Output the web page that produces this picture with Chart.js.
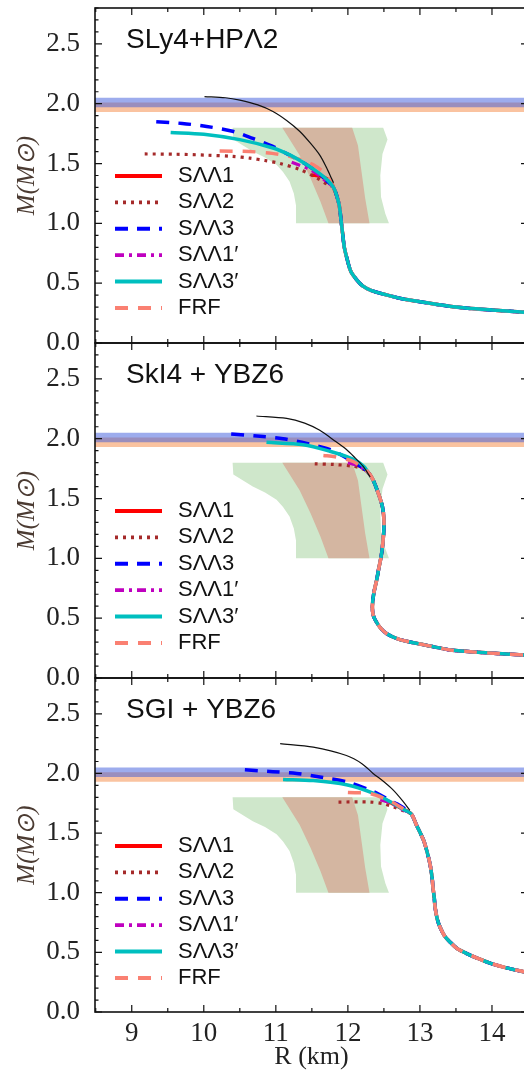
<!DOCTYPE html>
<html>
<head>
<meta charset="utf-8">
<script src="https://cdn.jsdelivr.net/npm/chart.js@4.4.1/dist/chart.umd.min.js"></script>
<style>
  html, body { margin: 0; padding: 0; background: #fff; overflow: hidden; width: 524px; height: 1073px; }
  canvas { position: absolute; left: 0; }
</style>
</head>
<body>
<canvas id="c1" width="529" height="360" style="top:0"></canvas>
<canvas id="c2" width="529" height="360" style="top:335px"></canvas>
<canvas id="c3" width="529" height="403" style="top:670px"></canvas>
<script>
// axis ranges and tick labels
const xRange = [8.49, 14.5];
const yRange = [0, 2.8];
const xTicks = [9, 10, 11, 12, 13, 14];
const yTicks = [0, 0.5, 1.0, 1.5, 2.0, 2.5];

const panelNames = ['SLy4+HPΛ2', 'SkI4 + YBZ6', 'SGI + YBZ6'];
const seriesNames = ['SΛΛ1', 'SΛΛ2', 'SΛΛ3', 'SΛΛ1′', 'SΛΛ3′', 'FRF'];

// mass bands (Msun)
const blueBand = [1.97, 2.05];
const orangeBand = [1.93, 2.01];

// radius constraint regions, [R, M]
const greenRegion = [[10.40,1.80],[12.49,1.80],[12.55,1.70],[12.48,1.58],[12.45,1.40],[12.46,1.22],[12.52,1.08],[12.57,1.00],
  [11.28,1.00],[11.28,1.15],[11.25,1.25],[11.19,1.35],[11.10,1.43],[11.01,1.49],[10.85,1.55],[10.68,1.60],[10.41,1.70]];
const brownRegion = [[11.09,1.80],[12.06,1.80],[12.14,1.65],[12.19,1.43],[12.24,1.21],[12.30,1.00],
  [11.73,1.00],[11.62,1.18],[11.48,1.38],[11.33,1.57]];

// panel 1: SLy4+HPΛ2
const p1Black = [[10.01,2.06],[10.3,2.05],[10.5,2.03],[10.75,1.99],[10.96,1.935],[11.15,1.86],[11.33,1.77],[11.48,1.67],[11.61,1.57],[11.70,1.47],[11.77,1.38],[11.80,1.34]];
const p1Main = [[11.80,1.30],[11.84,1.24],[11.88,1.15],[11.91,1.00],[11.93,0.90],[11.95,0.80],[11.99,0.70],[12.04,0.60],[12.12,0.53],[12.20,0.48],[12.32,0.44],[12.55,0.40],[12.75,0.37],[13.0,0.345],[13.5,0.30],[14.0,0.275],[14.5,0.255]];
const p1S1 = [[11.50,1.405],[11.62,1.395],[11.72,1.37],[11.78,1.33]];
const p1S2 = [[9.18,1.58],[9.6,1.578],[10.04,1.57],[10.4,1.56],[10.64,1.545],[10.85,1.525],[11.06,1.50],[11.33,1.45],[11.57,1.38],[11.73,1.32]];
const p1S3 = [[9.34,1.85],[9.7,1.835],[10.04,1.81],[10.4,1.77],[10.68,1.71],[10.95,1.645],[11.19,1.57],[11.40,1.50],[11.57,1.43],[11.70,1.36]];
const p1S1p = [[11.22,1.51],[11.35,1.48],[11.47,1.45],[11.60,1.40],[11.70,1.35]];
const p1S3p = [[9.54,1.76],[10.0,1.745],[10.5,1.70],[10.96,1.63],[11.2,1.57],[11.43,1.49],[11.60,1.42],[11.72,1.36]];
const p1FRF = [[10.22,1.605],[10.64,1.60],[10.95,1.585],[11.19,1.56],[11.38,1.525],[11.52,1.49],[11.66,1.43],[11.74,1.37]];

// panel 2: SkI4 + YBZ6
const p2Black = [[10.73,2.19],[11.15,2.17],[11.40,2.13],[11.61,2.07],[11.80,1.99],[11.98,1.91],[12.10,1.84],[12.21,1.77],[12.31,1.68]];
const p2Main = [[12.28,1.72],[12.35,1.655],[12.43,1.53],[12.48,1.43],[12.50,1.33],[12.50,1.24],[12.48,1.10],[12.46,1.01],[12.43,0.92],[12.40,0.82],[12.36,0.71],[12.34,0.60],[12.35,0.53],[12.38,0.485],[12.45,0.42],[12.54,0.37],[12.70,0.325],[12.95,0.29],[13.2,0.26],[13.42,0.234],[13.70,0.22],[14.02,0.206],[14.5,0.19]];
const p2S1 = [[12.10,1.79],[12.20,1.76]];
const p2S2 = [[11.54,1.79],[11.80,1.785],[12.07,1.77],[12.20,1.75]];
const p2S3 = [[10.38,2.04],[10.78,2.02],[11.10,2.00],[11.43,1.96],[11.75,1.91],[11.98,1.84],[12.17,1.77]];
const p2S1p = [[12.0,1.80],[12.12,1.78],[12.22,1.75]];
const p2S3p = [[10.87,1.97],[11.38,1.95],[11.75,1.895],[12.07,1.83],[12.22,1.77]];
const p2FRF = [[11.66,1.86],[11.82,1.85],[12.07,1.81],[12.20,1.76]];

// panel 3: SGI + YBZ6
const p3Black = [[11.06,2.25],[11.52,2.22],[11.98,2.15],[12.20,2.08],[12.35,2.00],[12.50,1.93],[12.63,1.86],[12.76,1.77],[12.86,1.69]];
const p3Main = [[12.88,1.66],[12.95,1.57],[13.05,1.44],[13.10,1.34],[13.14,1.24],[13.17,1.12],[13.18,1.05],[13.20,0.95],[13.21,0.88],[13.24,0.78],[13.28,0.71],[13.34,0.64],[13.42,0.585],[13.52,0.53],[13.65,0.49],[13.80,0.45],[13.97,0.41],[14.2,0.37],[14.5,0.33]];
const p3S1 = [[12.55,1.77],[12.70,1.72]];
const p3S2 = [[11.87,1.76],[12.31,1.76],[12.50,1.745],[12.63,1.72],[12.80,1.68]];
const p3S3 = [[10.57,2.03],[10.96,2.015],[11.29,2.00],[11.61,1.97],[11.98,1.93],[12.35,1.85],[12.55,1.785],[12.68,1.745],[12.80,1.70]];
const p3S1p = [[12.45,1.78],[12.60,1.75],[12.75,1.70]];
const p3S3p = [[11.10,1.95],[11.52,1.94],[11.98,1.905],[12.35,1.835],[12.55,1.775],[12.68,1.73],[12.80,1.69]];
const p3FRF = [[12.0,1.84],[12.31,1.83],[12.58,1.77],[12.75,1.71]];

// line styles for the six series (same order as seriesNames)
const seriesStyles = [
  {color: '#ff0000', dash: [], width: 3.5},
  {color: '#a52a2a', dash: [3, 5], width: 3.2},
  {color: '#0000ff', dash: [13, 9], width: 3.5},
  {color: '#bf00bf', dash: [9, 5, 3, 5], width: 3.2},
  {color: '#00bfbf', dash: [], width: 3.5},
  {color: '#fa8072', dash: [13, 10], width: 3.5}
];

const toXY = pts => pts.map(([x, y]) => ({x: x, y: y}));

function curve(pts, st) {
  return {
    data: toXY(pts), borderColor: st.color, borderWidth: st.width, borderDash: st.dash,
    borderCapStyle: 'butt', tension: 0.3, fill: false, pointRadius: 0
  };
}

function flat(v) {
  return {data: toXY([[xRange[0], v], [xRange[1], v]]), borderColor: 'transparent', borderWidth: 0, pointRadius: 0};
}

function region(pts, color) {
  return {data: toXY(pts.concat([pts[0]])), borderColor: 'transparent', borderWidth: 0,
    backgroundColor: color, fill: 'shape', tension: 0, pointRadius: 0};
}

// background pieces: drawn first (last in the list)
function backgroundSets() {
  return [
    Object.assign(flat(blueBand[1]), {fill: '+1', backgroundColor: 'rgba(60,90,220,0.5)'}),
    flat(blueBand[0]),
    Object.assign(flat(orangeBand[1]), {fill: '+1', backgroundColor: 'rgba(245,135,65,0.5)'}),
    flat(orangeBand[0]),
    region(brownRegion, '#d4b6a1'),
    region(greenRegion, '#cfe7cb')
  ];
}

// draws frame, inward ticks, panel name and legend
const decor = {
  id: 'decor',
  afterDatasetsDraw(chart, args, opts) {
    const {ctx, chartArea: a} = chart;
    const xs = chart.scales.x, ys = chart.scales.y;
    ctx.save();
    ctx.strokeStyle = '#111';
    ctx.lineWidth = 1.6;
    ctx.strokeRect(a.left, a.top, a.right - a.left, a.bottom - a.top);

    ctx.lineWidth = 1.2;
    ctx.beginPath();
    for (let i = 17; i <= 29; i++) {
      const v = i / 2;
      const px = xs.getPixelForValue(v);
      const len = i % 2 === 0 ? 7 : 4;
      ctx.moveTo(px, a.bottom); ctx.lineTo(px, a.bottom - len);
      ctx.moveTo(px, a.top); ctx.lineTo(px, a.top + len);
    }
    for (let i = 0; i <= 28; i++) {
      const py = ys.getPixelForValue(i / 10);
      const len = i % 5 === 0 ? 7 : 3.5;
      ctx.moveTo(a.left, py); ctx.lineTo(a.left + len, py);
      ctx.moveTo(a.right, py); ctx.lineTo(a.right - len, py);
    }
    ctx.stroke();

    // panel name
    ctx.fillStyle = '#111';
    ctx.font = '28px "Liberation Sans"';
    ctx.textBaseline = 'alphabetic';
    ctx.fillText(opts.name, a.left + 31, a.top + 40);

    // legend
    ctx.font = '22px "Liberation Sans"';
    ctx.textBaseline = 'middle';
    seriesNames.forEach((name, i) => {
      const st = seriesStyles[i];
      const yy = a.top + 168 + i * 26.4;
      ctx.strokeStyle = st.color;
      ctx.lineWidth = st.width + 0.5;
      ctx.setLineDash(st.dash);
      ctx.beginPath();
      ctx.moveTo(a.left + 20, yy);
      ctx.lineTo(a.left + 67, yy);
      ctx.stroke();
      ctx.setLineDash([]);
      ctx.fillStyle = '#111';
      ctx.fillText(name, a.left + 83, yy);
    });
    ctx.restore();
  }
};

function makePanel(id, idx, curves, main, salmonOnTop, bottom) {
  const [s1, s2, s3, s1p, s3p, frf, black] = curves;
  const st = seriesStyles;
  const sets = [curve(black, {color: '#111', dash: [], width: 1.2})];
  const cyan = curve(s3p.concat(main), st[4]);
  const salmon = curve(frf.concat(main), st[5]);
  if (salmonOnTop) { sets.push(salmon, cyan); } else { sets.push(cyan, salmon); }
  sets.push(
    curve(s1p.concat(main), st[3]),
    curve(s3.concat(main), st[2]),
    curve(s2.concat(main), st[1]),
    curve(s1.concat(main), st[0])
  );
  const all = sets.concat(backgroundSets());

  const canvas = document.getElementById(id);
  const xHeight = bottom ? 61 : 17;

  return new Chart(canvas.getContext('2d'), {
    type: 'line',
    data: {datasets: all},
    plugins: [decor],
    options: {
      responsive: false,
      animation: false,
      layout: {padding: {top: 8, right: 1, bottom: 0, left: 0}},
      elements: {point: {radius: 0}},
      plugins: {
        legend: {display: false},
        tooltip: {enabled: false},
        decor: {name: panelNames[idx]}
      },
      scales: {
        x: {
          type: 'linear',
          min: xRange[0], max: xRange[1],
          grid: {display: false},
          border: {display: false},
          afterBuildTicks: s => { s.ticks = xTicks.map(v => ({value: v})); },
          afterFit: s => { s.height = xHeight; s.paddingLeft = 0; s.paddingRight = 0; },
          ticks: {
            display: bottom,
            padding: 0,
            color: '#222',
            font: {family: 'Liberation Serif', size: 27, lineHeight: 1}
          },
          title: {
            display: bottom,
            text: 'R (km)',
            color: '#222',
            font: {family: 'Liberation Serif', size: 26},
            padding: 0
          }
        },
        y: {
          min: yRange[0], max: yRange[1],
          grid: {display: false},
          border: {display: false},
          afterBuildTicks: s => { s.ticks = yTicks.map(v => ({value: v})); },
          afterFit: s => { s.width = 95; s.paddingTop = 0; s.paddingBottom = 0; },
          ticks: {
            padding: 7,
            color: '#222',
            font: {family: 'Liberation Serif', size: 27},
            callback: v => Number(v).toFixed(1)
          },
          title: {
            display: true,
            text: 'M(M⊙)',
            color: '#4b3b32',
            font: {family: 'Liberation Serif', size: 25, style: 'italic'},
            padding: {top: 12, bottom: 0}
          }
        }
      }
    }
  });
}

makePanel('c1', 0, [p1S1, p1S2, p1S3, p1S1p, p1S3p, p1FRF, p1Black], p1Main, false, false);
makePanel('c2', 1, [p2S1, p2S2, p2S3, p2S1p, p2S3p, p2FRF, p2Black], p2Main, true, false);
makePanel('c3', 2, [p3S1, p3S2, p3S3, p3S1p, p3S3p, p3FRF, p3Black], p3Main, true, true);
</script>
</body>
</html>
